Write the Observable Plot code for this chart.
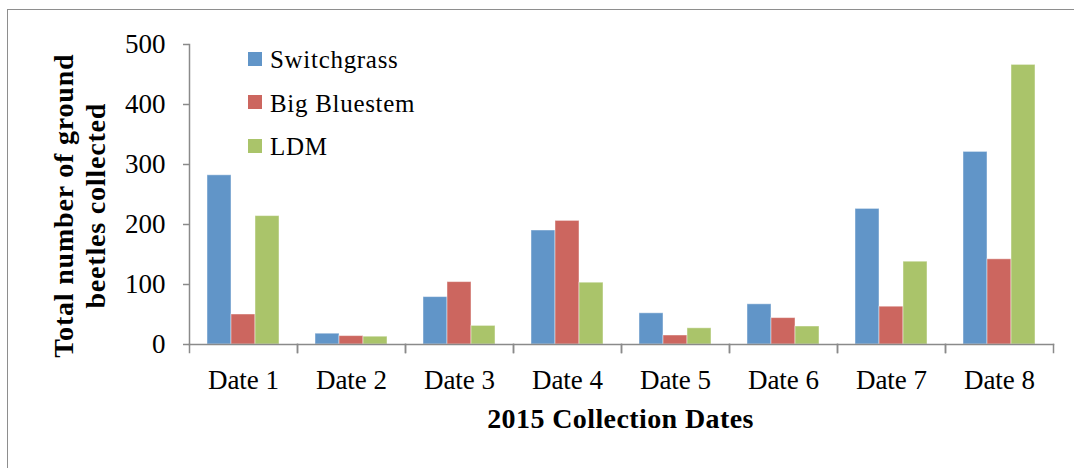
<!DOCTYPE html>
<html>
<head>
<meta charset="utf-8">
<script src="https://cdn.jsdelivr.net/npm/d3@7"></script>
<script src="https://cdn.jsdelivr.net/npm/@observablehq/plot@0.6"></script>
<style>
  html, body { margin: 0; padding: 0; background: #fff; }
  #wrap { position: relative; width: 1074px; height: 468px; overflow: hidden; font-family: "Liberation Serif", serif; color: #000; }
  #border { position: absolute; left: 7px; top: 9px; width: 1200px; height: 600px; border-top: 1.5px solid #8e8e8e; border-left: 1.5px solid #8e8e8e; }
  #chart { position: absolute; left: 0; top: 0; }
  .legend-item { position: absolute; left: 248px; height: 25px; font-family: "Liberation Serif", serif; font-size: 25px; line-height: 25px; white-space: nowrap; letter-spacing: 0.7px; }
  .legend-item .sw { position: absolute; left: 0; width: 14px; height: 14px; }
  .legend-item .lab { position: absolute; left: 22px; top: 0; font-family: "Liberation Serif", serif; }
  #xtitle { position: absolute; left: 0; width: 1241px; top: 405px; text-align: center; font-family: "Liberation Serif", serif; font-weight: bold; font-size: 28px; line-height: 28px; letter-spacing: 0.4px; }
  #ytitle { position: absolute; width: 420px; height: 63.4px; left: calc(79.7px - 210px); top: calc(206px - 31.7px); transform: rotate(-90deg); transform-origin: 50% 50%; text-align: center; font-family: "Liberation Serif", serif; font-weight: bold; font-size: 28px; line-height: 31.7px; letter-spacing: 0.8px; white-space: nowrap; }
</style>
</head>
<body>
<div id="wrap">
  <div id="border"></div>
  <div id="chart"></div>
  <div id="ytitle">Total number of ground<br>beetles collected</div>
  <div id="xtitle">2015 Collection Dates</div>
  <div id="legend"></div>
</div>
<script>
// ---- data ----
const dates = ["Date 1", "Date 2", "Date 3", "Date 4", "Date 5", "Date 6", "Date 7", "Date 8"];
const seriesNames = ["Switchgrass", "Big Bluestem", "LDM"];
const switchgrass = [282, 18, 79, 190, 52, 67, 226, 321];
const bigBluestem = [50, 14, 104, 206, 15, 44, 63, 142];
const ldm = [214, 13, 31, 103, 27, 30, 138, 466];
const yTicks = [0, 100, 200, 300, 400, 500];
const seriesColors = ["#6195c8", "#cc665f", "#aac46a"];

const seriesValues = [switchgrass, bigBluestem, ldm];
const table = [];
dates.forEach((d, i) => {
  seriesNames.forEach((s, j) => table.push({date: d, series: s, value: seriesValues[j][i]}));
});

const axisColor = "#8a8a8a";

const chart = Plot.plot({
  width: 1074,
  height: 468,
  marginLeft: 187,
  marginRight: 19,
  marginTop: 44,
  marginBottom: 124,
  style: {fontFamily: "Liberation Serif", fontSize: "27px", color: "#000", background: "transparent"},
  fx: {domain: dates, padding: 0, axis: null},
  x: {domain: seriesNames, paddingInner: 0, paddingOuter: 0.75, axis: null},
  y: {domain: [0, 500], axis: null},
  color: {domain: seriesNames, range: seriesColors},
  marks: [
    Plot.barY(table, {fx: "date", x: "series", y: "value", fill: "series", stroke: "#ffffff", strokeOpacity: 0.45, strokeWidth: 1}),
    Plot.frame({anchor: "left", facet: "super", stroke: axisColor, strokeWidth: 1.5}),
    Plot.frame({anchor: "bottom", facet: "super", stroke: axisColor, strokeWidth: 1.5}),
    Plot.frame({anchor: "left", insetTop: 300, insetBottom: -8, stroke: axisColor, strokeWidth: 1.5}),
    Plot.frame({anchor: "right", insetTop: 300, insetBottom: -8, stroke: axisColor, strokeWidth: 1.5}),
    Plot.axisY({ticks: yTicks, tickSize: 6, tickPadding: 18, tickFormat: d => String(d), stroke: axisColor, strokeWidth: 1.5, fontSize: 27, label: null}),
    Plot.axisFx({anchor: "bottom", tickSize: 0, tickPadding: 25, fontSize: 27, label: null})
  ]
});
document.getElementById("chart").appendChild(chart);

// legend
const legend = document.getElementById("legend");
const legendTops = [47.4, 90.8, 134.1];
seriesNames.forEach((s, j) => {
  const item = document.createElement("div");
  item.className = "legend-item";
  item.style.top = legendTops[j] + "px";
  const sw = document.createElement("div");
  sw.className = "sw";
  sw.style.background = seriesColors[j];
  sw.style.top = "4.5px";
  const lab = document.createElement("div");
  lab.className = "lab";
  lab.textContent = s;
  item.appendChild(sw);
  item.appendChild(lab);
  legend.appendChild(item);
});
</script>
</body>
</html>
